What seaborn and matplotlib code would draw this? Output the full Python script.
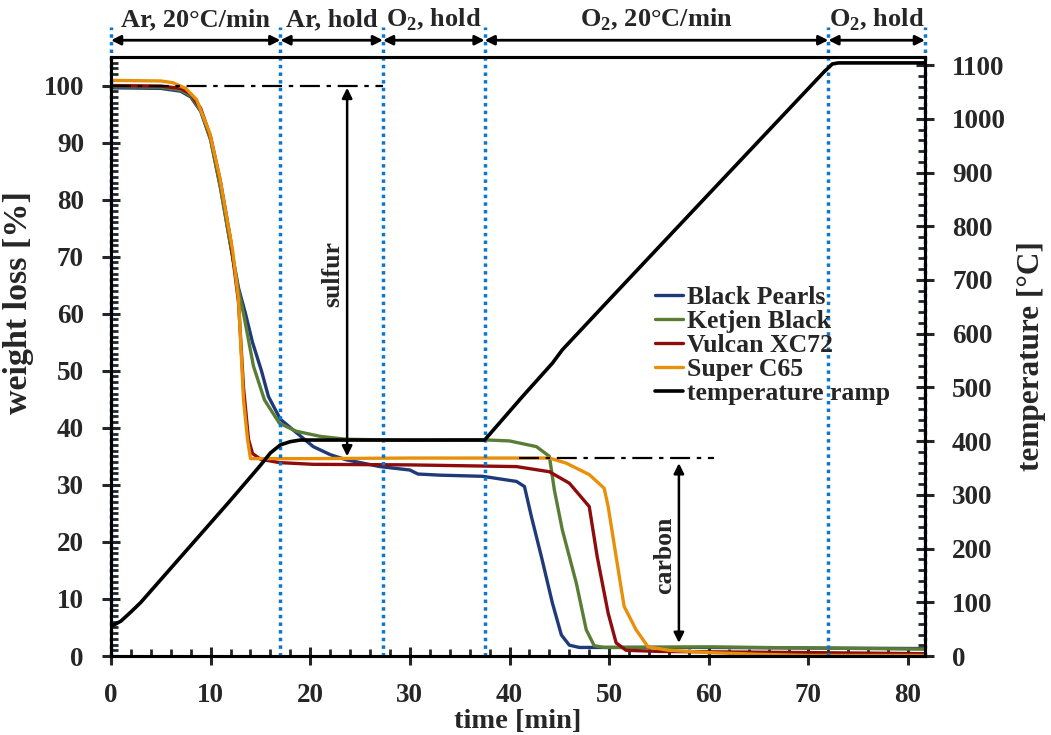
import matplotlib
matplotlib.use("Agg")
import matplotlib.pyplot as plt
import matplotlib.transforms as mtransforms
from matplotlib.ticker import MultipleLocator
from matplotlib.lines import Line2D
import seaborn as sns

# weight loss curves (time [min], weight [%])
bp_time = [0, 5, 7, 8, 9, 10, 11, 12, 12.8, 13.5, 14.2, 15.1, 15.8, 17, 18.3, 20.3, 22, 23.6, 27, 30,
           30.8, 33, 37.3, 40.7, 41.5, 42.2, 43.2, 44.3, 45.2, 46, 47, 60, 70, 82]
bp_weight = [99.6, 99.5, 99.0, 98.0, 95.5, 90.5, 82, 72, 64.5, 60, 55, 50, 45.5, 41.5, 39.6, 36.7,
             35.3, 34.4, 33.2, 32.6, 31.9, 31.7, 31.5, 30.6, 29.7, 24.4, 17.4, 9.3, 3.7, 1.9, 1.5,
             1.5, 1.4, 1.3]

kb_time = [0, 5, 7, 8, 9, 10, 11, 12, 12.8, 13.3, 14.3, 15.4, 16.9, 18.6, 21, 23.6, 30, 37.3, 40,
           42.7, 44, 44.5, 45.3, 46.7, 47.7, 48.5, 49.5, 60, 70, 82]
kb_weight = [99.8, 99.7, 99.2, 98.2, 95.7, 90.5, 82, 72, 64, 60, 50.8, 44.9, 40.8, 39.4, 38.5, 38.0,
             37.8, 37.9, 37.7, 36.7, 35.0, 29.1, 22.1, 12.8, 4.6, 1.8, 1.5, 1.6, 1.4, 1.2]

vx_time = [0, 5, 7, 8, 9, 10, 11, 12, 12.8, 13.3, 13.8, 14.2, 15, 16.9, 20.3, 30, 40.7, 44, 46,
           48, 48.8, 49.9, 50.7, 51.7, 55, 70, 82]
vx_weight = [100.0, 99.9, 99.5, 98.5, 96.0, 91.0, 83, 73, 62, 47, 38, 35.5, 34.5, 33.9, 33.6, 33.5,
             33.2, 32.3, 30.3, 26.2, 17.4, 7.5, 2.3, 1.0, 0.8, 0.6, 0.4]

sc_time = [0, 5, 6.2, 7.5, 8.6, 9.9, 10.9, 11.7, 12.2, 12.8, 13.3, 13.7, 14, 20, 30, 44, 45.7, 48,
           49.5, 49.9, 50.7, 51.5, 52.7, 53.9, 56, 60, 65, 70, 82]
sc_weight = [100.9, 100.8, 100.5, 99.5, 97.5, 91.7, 84, 76, 71.2, 62.5, 44.9, 38, 34.6, 34.6, 34.7,
             34.7, 33.8, 31.8, 29.4, 26.2, 17.4, 8.7, 4.6, 1.6, 1.0, 0.6, 0.3, 0.1, 0.1]

# temperature program (time [min], temperature [°C])
temp_time = [0, 1, 2, 3, 12, 15, 16, 17, 18, 19, 37.5, 41.3, 44.3, 45.3, 50, 60, 71.6, 72.4, 73, 82]
temp_value = [55, 65, 82, 100, 290, 355, 378, 393, 399, 402, 402, 483, 545, 570, 663, 860, 1088,
              1102, 1104, 1104]

# program segments
segment_edges = [0, 17, 27.3, 37.5, 72, 81.7]
segment_labels = ["Ar, 20°C/min", "Ar, hold", r"O$_\mathbf{2}$, hold",
                  r"O$_\mathbf{2}$, 20°C/min", r"O$_\mathbf{2}$, hold"]

series_names = ["Black Pearls", "Ketjen Black", "Vulcan XC72", "Super C65"]
series_colors = ["#1F3A78", "#5A7D36", "#8E0C0C", "#E8900A"]

sns.set_style("ticks")
plt.rcParams["font.family"] = ["Liberation Serif", "DejaVu Serif"]
plt.rcParams["font.weight"] = "bold"
plt.rcParams["mathtext.fontset"] = "custom"
plt.rcParams["mathtext.rm"] = "Liberation Serif:bold"
plt.rcParams["mathtext.bf"] = "Liberation Serif:bold"
plt.rcParams["axes.linewidth"] = 2.2

fig = plt.figure(figsize=(10.51, 7.35), dpi=100)
ax = fig.add_axes([111 / 1051, 79 / 735, 814 / 1051, 599 / 735])
ax2 = ax.twinx()

all_t = [bp_time, kb_time, vx_time, sc_time]
all_w = [bp_weight, kb_weight, vx_weight, sc_weight]
handles = []
for t, w, name, col in zip(all_t, all_w, series_names, series_colors):
    sns.lineplot(x=t, y=w, ax=ax, color=col, lw=2.4, sort=False, estimator=None)
    handles.append(Line2D([], [], color=col, lw=2.4, label=name))

sns.lineplot(x=temp_time, y=temp_value, ax=ax2, color="black", lw=2.6, sort=False, estimator=None)
handles.append(Line2D([], [], color="black", lw=2.6, label="temperature ramp"))

ax.set_xlim(0, 81.7)
ax.set_ylim(0, 105)
ax2.set_ylim(0, 1115)

ax.xaxis.set_major_locator(MultipleLocator(10))
ax.xaxis.set_minor_locator(MultipleLocator(2))
ax.yaxis.set_minor_locator(MultipleLocator(1))
ax2.yaxis.set_minor_locator(MultipleLocator(20))
ax.set_yticks(range(0, 101, 10))
ax2.set_yticks(range(0, 1101, 100))

for a in (ax, ax2):
    a.tick_params(which="major", direction="inout", length=13, width=2.2, labelsize=19.5, pad=13)
    a.tick_params(which="minor", direction="in", length=5, width=2)
    for s in a.spines.values():
        s.set_linewidth(2.2)
        s.set_color("black")

ax.set_xlabel("time [min]", fontsize=20.5, fontweight="bold", labelpad=1)
ax.set_ylabel("weight loss [%]", fontsize=24.5, fontweight="bold")
ax.yaxis.set_label_coords(-0.094, 0.59)
ax2.set_ylabel("temperature [°C]", fontsize=22.5, fontweight="bold", labelpad=8)

# segment boundaries and labels above the plot
trans = mtransforms.blended_transform_factory(ax.transData, ax.transAxes)
for x in segment_edges:
    ax.axvline(x, ymin=0, ymax=1.05, clip_on=False, color="#0A78D0", ls=(0, (1, 1.2)), lw=2.5, zorder=5)
for x0, x1, lab in zip(segment_edges[:-1], segment_edges[1:], segment_labels):
    ax.annotate("", xy=(x0, 1.028), xytext=(x1, 1.028), xycoords=trans, textcoords=trans,
                arrowprops=dict(arrowstyle="<|-|>", color="black", lw=2, mutation_scale=14,
                                shrinkA=0, shrinkB=0), annotation_clip=False)
    ax.text((x0 + x1) / 2, 1.062, lab, transform=trans, ha="center", va="center",
            fontsize=19, fontweight="bold", clip_on=False)

# sulfur / carbon markers
ax.hlines(100, 0, 27.3, colors="black", lw=1.6, linestyles=(0, (9, 3, 2, 3)), zorder=4)
ax.hlines(34.7, 41, 60.5, colors="black", lw=1.6, linestyles=(0, (9, 3, 2, 3)), zorder=4)
ax.annotate("", xy=(23.7, 35.0), xytext=(23.7, 99.6),
            arrowprops=dict(arrowstyle="<|-|>", color="black", lw=1.8, mutation_scale=15,
                            shrinkA=0, shrinkB=0))
ax.annotate("", xy=(57, 2.3), xytext=(57, 33.8),
            arrowprops=dict(arrowstyle="<|-|>", color="black", lw=1.8, mutation_scale=15,
                            shrinkA=0, shrinkB=0))
ax.text(22.3, 67, "sulfur", rotation=90, ha="center", va="center", fontsize=18.5, fontweight="bold")
ax.text(55.6, 17.7, "carbon", rotation=90, ha="center", va="center", fontsize=18.5, fontweight="bold")

leg = ax2.legend(handles=handles, loc="upper left", bbox_to_anchor=(0.668, 0.617), frameon=False,
                 fontsize=18.5, handlelength=1.1, handletextpad=0.15, labelspacing=0.03,
                 borderpad=0, borderaxespad=0)
for txt in leg.get_texts():
    txt.set_fontweight("bold")

fig.savefig("out.png", dpi=100)
